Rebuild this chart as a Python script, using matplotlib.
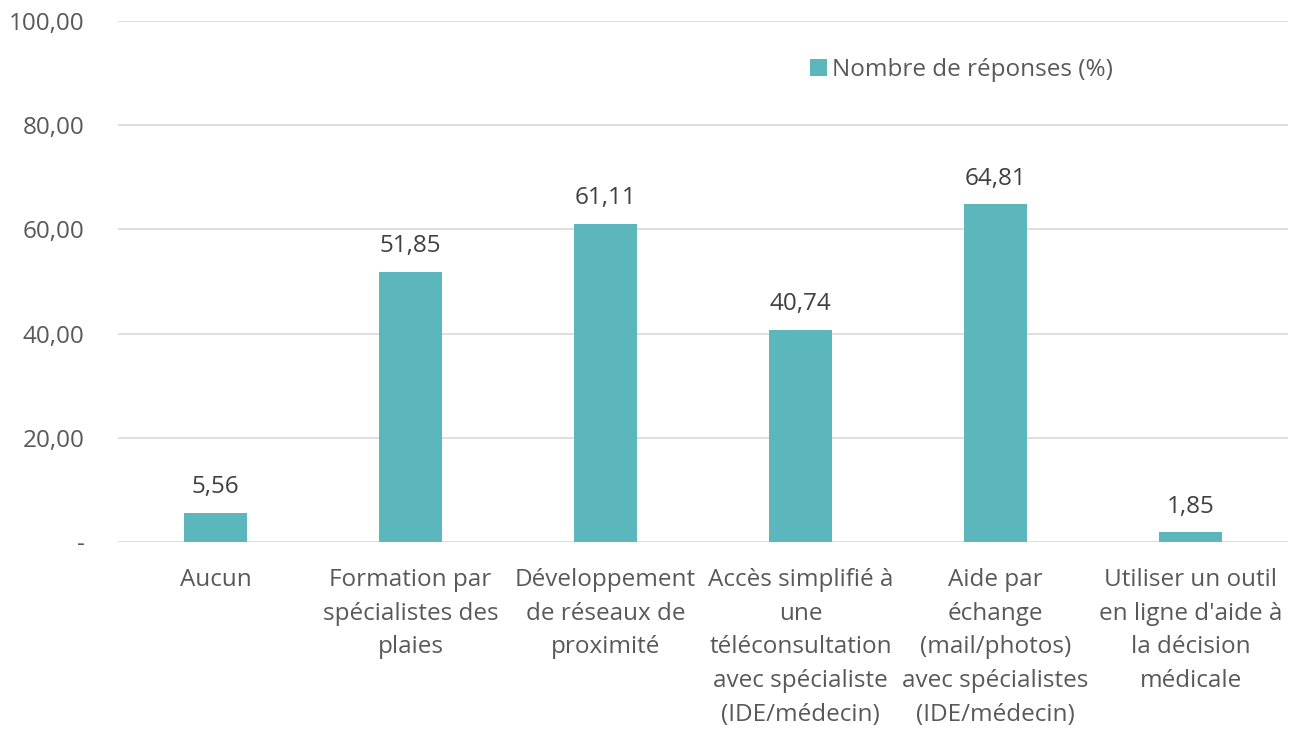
import matplotlib
matplotlib.use('Agg')
import matplotlib.pyplot as plt
from matplotlib.ticker import FixedLocator

# Chart data
categories = [
    'Aucun',
    'Formation par\nspécialistes des\nplaies',
    'Développement\nde réseaux de\nproximité',
    'Accès simplifié à\nune\ntéléconsultation\navec spécialiste\n(IDE/médecin)',
    'Aide par\néchange\n(mail/photos)\navec spécialistes\n(IDE/médecin)',
    "Utiliser un outil\nen ligne d'aide à\nla décision\nmédicale",
]
values = [5.56, 51.85, 61.11, 40.74, 64.81, 1.85]
value_labels = ['5,56', '51,85', '61,11', '40,74', '64,81', '1,85']
y_ticks = [0, 20, 40, 60, 80, 100]
y_tick_labels = ['-', '20,00', '40,00', '60,00', '80,00', '100,00']
series_name = 'Nombre de réponses (%)'

plt.rcParams['font.family'] = ['Open Sans', 'DejaVu Sans']
FS = 17.5

fig = plt.figure(figsize=(12.98, 7.33), dpi=100)
ax = fig.add_axes([0.0909, 0.2606, 0.9014, 0.7108])

x = range(len(categories))
ax.bar(x, values, width=0.32, color='#5BB7BC', label=series_name, zorder=3)

for i, v in enumerate(values):
    ax.text(i, v + 2.6, value_labels[i], ha='center', va='bottom',
            fontsize=FS, color='#404040')

ax.set_ylim(0, 100)
ax.set_xlim(-0.5, len(categories) - 0.5)
ax.yaxis.set_major_locator(FixedLocator(y_ticks))
ax.set_yticklabels(y_tick_labels, fontsize=FS, color='#595959')
ax.set_xticks(list(x))
ax.set_xticklabels(categories, fontsize=FS, color='#595959', linespacing=1.53,
                   va='top')
ax.tick_params(axis='both', length=0)
ax.tick_params(axis='x', pad=19)
ax.tick_params(axis='y', pad=24)

ax.grid(axis='y', color='#D9D9D9', linewidth=1.2, zorder=0)
for s in ax.spines.values():
    s.set_visible(False)

ax.legend(loc='upper left', bbox_to_anchor=(0.5725, 0.971), frameon=False,
          fontsize=FS, handlelength=0.7, handleheight=0.7, handletextpad=0.2,
          labelcolor='#595959')

fig.savefig('out.png', dpi=100)
